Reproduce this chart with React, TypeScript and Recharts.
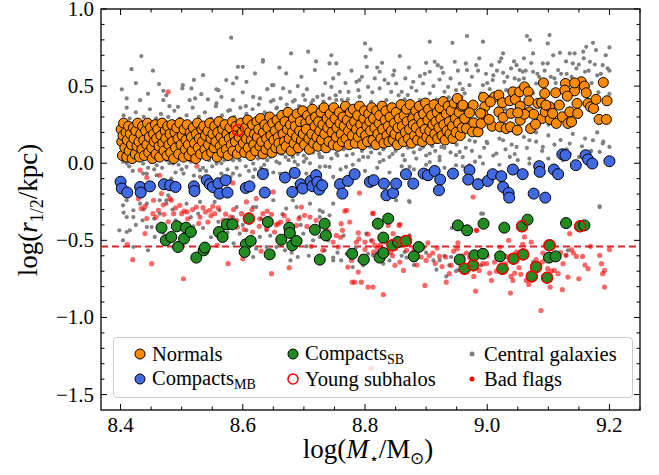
import React from 'react';
import {
  ScatterChart,
  Scatter,
  XAxis,
  YAxis,
  ReferenceLine,
  Customized,
} from 'recharts';

type P = [number, number];

const xTicks = [8.4, 8.45, 8.5, 8.55, 8.6, 8.65, 8.7, 8.75, 8.8, 8.85, 8.9, 8.95, 9.0, 9.05, 9.1, 9.15, 9.2, 9.25];
const yTicks = [-1.5, -1.4, -1.3, -1.2, -1.1, -1.0, -0.9, -0.8, -0.7, -0.6, -0.5, -0.4, -0.3, -0.2, -0.1, 0.0, 0.1, 0.2, 0.3, 0.4, 0.5, 0.6, 0.7, 0.8, 0.9, 1.0];
const cutLine = -0.54;

const centralGalaxies: P[] = [
  [8.581,0.814],[8.434,0.695],[8.418,0.61],[8.453,0.6],[8.402,0.479],[8.501,0.485],[8.516,0.485],[8.532,0.448],[8.56,0.474],[8.573,0.539],
  [8.59,0.554],[8.606,0.528],[8.62,0.582],[8.633,0.658],[8.592,0.625],[8.679,0.712],[8.707,0.723],[8.671,0.582],[8.696,0.56],[8.718,0.604],
  [8.648,0.506],[8.666,0.485],[8.41,0.42],[8.432,0.409],[8.47,0.409],[8.48,0.37],[8.494,0.366],[8.513,0.409],[8.543,0.414],[8.557,0.388],
  [8.579,0.344],[8.584,0.409],[8.605,0.37],[8.628,0.42],[8.617,0.43],[8.65,0.409],[8.655,0.355],[8.677,0.463],[8.685,0.409],[8.699,0.442],
  [8.715,0.409],[8.731,0.442],[8.726,0.366],[8.535,0.571],[8.6,0.625],[8.633,0.669],[8.463,0.513],[8.502,0.506],[8.557,0.479],[8.584,0.517],[8.65,0.506],
  [8.405,0.31],[8.415,0.29],[8.425,0.33],[8.438,0.30],[8.448,0.35],[8.458,0.29],[8.466,0.32],[8.478,0.30],[8.488,0.34],[8.497,0.29],
  [8.508,0.31],[8.518,0.36],[8.528,0.30],[8.538,0.33],[8.548,0.29],[8.556,0.37],[8.566,0.31],[8.576,0.34],[8.586,0.30],[8.596,0.36],
  [8.606,0.32],[8.616,0.35],[8.626,0.38],[8.636,0.33],[8.646,0.40],[8.656,0.36],[8.662,0.42],[8.672,0.38],[8.682,0.40],[8.692,0.37],
  [8.702,0.41],[8.712,0.39],[8.722,0.43],[8.732,0.40],[8.742,0.42],[8.752,0.44],[8.762,0.41],
  [8.41,0.36],[8.445,0.45],[8.475,0.44],[8.522,0.42],[8.565,0.43],[8.6,0.46],[8.64,0.48],[8.69,0.5],[8.705,0.48],[8.735,0.52],
  [8.72,0.66],[8.745,0.7],[8.66,0.62],[8.52,0.54],[8.47,0.47],[8.425,0.52],
  [8.8,0.777],[8.809,0.738],[8.906,0.788],[8.943,0.781],[8.967,0.825],[8.993,0.788],[9.065,0.825],[9.102,0.831],[9.099,0.777],[9.07,0.799],
  [9.173,0.781],[9.2,0.751],[9.162,0.755],[9.178,0.734],[9.075,0.712],[9.026,0.712],[9.119,0.716],[9.135,0.712],[9.143,0.712],[9.157,0.723],
  [8.801,0.69],[8.857,0.695],[8.742,0.647],[8.753,0.647],[8.803,0.625],[8.828,0.651],[8.9,0.651],[8.914,0.658],[8.919,0.636],[8.947,0.658],
  [8.965,0.647],[8.982,0.636],[9.007,0.636],[9.02,0.658],[9.048,0.636],[9.091,0.647],[9.099,0.647],[9.14,0.647],[9.168,0.658],[9.189,0.636],
  [9.197,0.615],[8.824,0.593],[8.846,0.571],[8.89,0.565],[8.906,0.593],[8.928,0.586],[8.967,0.604],[8.985,0.6],[9.026,0.586],[9.039,0.615],
  [9.053,0.604],[9.058,0.593],[9.075,0.593],[9.116,0.604],[9.146,0.615],[9.16,0.593],[8.748,0.55],[8.786,0.528],[8.791,0.539],[8.816,0.55],
  [8.805,0.495],[8.838,0.517],[8.851,0.517],[8.879,0.528],[8.895,0.517],[8.922,0.543],[8.936,0.495],[8.955,0.517],[8.971,0.506],[8.993,0.506],
  [9.009,0.539],[9.028,0.528],[9.08,0.517],[9.124,0.5],[8.745,0.495],[8.759,0.463],[8.773,0.463],[8.789,0.474],[8.824,0.485],[8.843,0.463],
  [8.86,0.463],[8.876,0.491],[8.87,0.442],[8.906,0.453],[8.93,0.463],[8.949,0.474],[8.963,0.453],[8.99,0.453],[9.031,0.474],[9.075,0.453],
  [8.753,0.409],[8.772,0.414],[8.791,0.43],[8.81,0.398],[8.835,0.409],[8.865,0.414],[8.89,0.409],[8.917,0.414],[8.937,0.427],[8.958,0.43],
  [9.003,0.43],[9.05,0.42],[9.01,0.57],[9.045,0.55],[9.085,0.56],[9.11,0.55],[9.13,0.58],[9.18,0.57],[9.19,0.52],[9.06,0.68],
  [8.757,0.58],[8.768,0.52],[8.778,0.6],[8.795,0.56],[8.812,0.46],[8.82,0.62],[8.832,0.54],[8.848,0.6],[8.855,0.44],[8.866,0.55],
  [8.872,0.62],[8.884,0.47],[8.898,0.58],[8.912,0.5],[8.925,0.62],[8.94,0.55],[8.952,0.6],[8.96,0.48],[8.975,0.56],[8.987,0.68],
  [8.998,0.58],[9.004,0.48],[9.016,0.6],[9.023,0.68],[9.033,0.56],[9.044,0.66],[9.052,0.54],[9.063,0.6],[9.072,0.65],[9.082,0.58],
  [9.094,0.6],[9.104,0.56],[9.108,0.7],[9.121,0.58],[9.129,0.66],[9.138,0.56],[9.15,0.64],[9.158,0.68],[9.166,0.6],[9.176,0.64],
  [9.186,0.58],[9.194,0.7],[9.2,0.6],[9.182,0.46],[9.171,0.52],[9.112,0.52],[9.06,0.55],[9.0,0.52],
  [8.75,0.138],[8.769,0.149],[8.789,0.106],[8.808,0.106],[8.813,0.128],[8.835,0.128],[8.851,0.117],[8.878,0.128],[8.895,0.106],[8.917,0.138],
  [8.925,0.106],[8.944,0.138],[8.971,0.149],[8.999,0.138],[9.026,0.149],[9.048,0.106],[9.069,0.149],[9.091,0.106],[9.135,0.128],[9.173,0.149],
  [9.189,0.128],[9.2,0.106],[8.753,0.063],[8.797,0.041],[8.824,0.063],[8.84,0.041],[8.862,0.052],[8.884,0.03],[8.906,0.063],[8.922,0.041],
  [8.949,0.052],[8.988,0.041],[9.015,0.063],[9.037,0.041],[9.069,0.03],[9.135,0.063],[9.184,0.073],[8.742,-0.024],[8.769,-0.024],[8.824,0.008],
  [8.873,-0.024],[8.906,0.008],[8.949,-0.013],[8.993,-0.002],[9.037,-0.024],[9.069,-0.002],[9.124,0.019],[8.759,-0.11],[8.851,-0.24],[8.873,-0.251],
  [8.922,0.019],[8.971,-0.013],[9.184,-0.279],[8.99,-0.327],[8.955,0.073],
  [8.437,-0.002],[8.459,-0.013],[8.486,-0.002],[8.508,-0.024],[8.53,-0.045],[8.557,-0.002],[8.584,0.019],[8.617,-0.002],[8.661,0.063],[8.682,0.041],
  [8.704,0.03],[8.726,0.041],[8.437,-0.067],[8.459,-0.078],[8.53,-0.089],[8.584,-0.067],[8.617,-0.089],[8.639,-0.045],[8.671,-0.067],[8.726,-0.024],
  [8.41,-0.24],[8.432,-0.262],[8.475,-0.24],[8.508,-0.262],[8.562,-0.219],[8.617,-0.284],[8.65,-0.24],[8.682,-0.24],[8.71,-0.262],[8.421,-0.349],
  [8.443,-0.414],[8.464,-0.327],[8.497,-0.392],[8.584,-0.349],[8.639,-0.435],[8.693,-0.349],[8.398,-0.435],[8.726,-0.349],
  [8.404,0.01],[8.414,-0.02],[8.422,0.02],[8.45,0.01],[8.468,-0.03],[8.475,0.02],[8.495,-0.01],[8.515,0.01],[8.535,-0.03],[8.545,0.02],
  [8.565,0.0],[8.575,-0.04],[8.595,0.02],[8.605,-0.02],[8.625,0.03],[8.635,-0.01],[8.645,0.04],[8.655,0.01],[8.665,0.06],[8.675,0.02],
  [8.69,0.06],[8.70,0.01],[8.715,0.07],[8.73,0.04],[8.74,0.08],[8.755,0.05],[8.765,0.09],[8.78,0.06],[8.795,0.08],[8.81,0.07],
  [8.83,0.09],[8.85,0.08],[8.87,0.10],[8.89,0.09],[8.91,0.11],[8.93,0.10],[8.95,0.12],[8.965,0.10],[8.98,0.14],[9.0,0.13],
  [9.02,0.16],[9.04,0.12],[9.06,0.17],[9.08,0.14],[9.1,0.18],[9.12,0.15],[9.14,0.19],[9.16,0.16],[9.18,0.2],
  [8.41,0.0],[8.43,0.03],[8.445,-0.03],[8.48,0.0],[8.5,-0.04],[8.525,0.02],[8.55,-0.02],[8.57,0.02],[8.59,-0.03],[8.62,-0.04],
  [8.64,0.02],[8.66,0.0],[8.67,0.04],[8.685,0.01],[8.7,0.05],[8.71,0.0],[8.725,0.06],[8.745,0.03],[8.77,0.05],[8.79,0.02],
  [8.805,0.04],[8.83,0.02],[8.845,0.06],[8.865,0.02],[8.88,0.07],[8.9,0.05],[8.915,0.08],[8.94,0.07],[8.96,0.04],[8.975,0.08],
  [8.995,0.1],[9.01,0.05],[9.03,0.09],[9.045,0.06],[9.065,0.1],[9.09,0.08],[9.11,0.12],[9.13,0.09],[9.155,0.11],[9.17,0.08],[9.19,0.14],
  [8.42,-0.05],[8.455,-0.04],[8.49,-0.06],[8.52,-0.08],[8.54,-0.05],[8.58,-0.09],[8.61,-0.05],[8.63,-0.03],[8.65,-0.06],[8.68,-0.04],
  [8.69,-0.01],[8.72,-0.05],[8.735,-0.02],[8.76,-0.04],[8.78,-0.01],[8.8,-0.05],[8.82,-0.03],[8.84,-0.06],[8.86,-0.02],[8.88,-0.04],
  [8.9,-0.01],[8.93,-0.03],[8.96,-0.02],[8.98,0.01],[9.02,-0.01],[9.05,0.02],[9.1,0.03],[9.15,0.04],
  [8.47,0.15],[8.6,0.09],[8.72,0.2],[8.85,0.25],[9.0,0.3],[9.1,0.25],[9.15,0.3],[9.18,0.35],[9.2,0.45],[9.08,0.2],[9.12,0.4],[9.03,0.35],
  [8.404,-0.273],[8.41,-0.349],[8.421,-0.305],[8.436,-0.37],[8.443,-0.262],[8.451,-0.414],[8.456,-0.478],[8.464,-0.24],[8.475,-0.262],[8.478,-0.208],
  [8.415,-0.435],[8.41,-0.446],[8.404,-0.5],[8.445,-0.565],[8.421,-0.543],[8.497,-0.424],[8.519,-0.409],[8.527,-0.327],[8.53,-0.251],[8.554,-0.251],
  [8.562,-0.305],[8.59,-0.284],[8.595,-0.457],[8.606,-0.435],[8.617,-0.608],[8.622,-0.554],[8.628,-0.478],[8.639,-0.543],[8.655,-0.543],[8.669,-0.565],
  [8.671,-0.294],[8.678,-0.63],[8.688,-0.284],[8.69,-0.608],[8.699,-0.457],[8.704,-0.539],[8.715,-0.5],[8.726,-0.305],[8.734,-0.565],[8.748,-0.63],
  [8.761,-0.63],[8.77,-0.587],[8.78,-0.608],[8.791,-0.63],[8.802,-0.457],[8.805,-0.587],[8.731,-0.316],[8.748,-0.089],[8.715,-0.089],[8.704,-0.067],
  [8.661,-0.067],[8.595,-0.078],[8.565,-0.067],[8.503,-0.067],[8.483,-0.099],[8.443,-0.067],[8.742,-0.338],[8.726,-0.478],[8.775,-0.565],[8.688,-0.132],
  [8.748,-0.262],[8.622,-0.284],[8.748,-0.612],[8.78,-0.673],[8.797,-0.662],[8.922,-0.63],[8.938,-0.662],[8.949,-0.699],[8.99,-0.662],[9.129,-0.597],
  [8.872,-0.245],[9.184,-0.284],[8.993,-0.327],[8.873,-0.468],[8.912,-0.63],[8.917,-0.69],[8.941,-0.608],[8.933,-0.734],[8.951,-0.695],[8.868,-0.612],
  [8.865,-0.576],[8.83,-0.651],[8.813,-0.597],[9.075,-0.641],[9.132,-0.565],[8.942,-0.42],
  [8.405,-0.32],[8.425,-0.4],[8.438,-0.3],[8.455,-0.36],[8.47,-0.45],[8.485,-0.3],[8.49,-0.37],[8.51,-0.45],[8.515,-0.35],[8.535,-0.42],
  [8.548,-0.48],[8.56,-0.38],[8.575,-0.45],[8.585,-0.52],[8.6,-0.4],[8.615,-0.5],[8.63,-0.36],[8.645,-0.47],[8.66,-0.52],[8.665,-0.33],
  [8.68,-0.58],[8.695,-0.4],[8.708,-0.6],[8.72,-0.45],[8.74,-0.5],[8.755,-0.58],[8.765,-0.47],[8.785,-0.55],[8.795,-0.6],[8.81,-0.5],
  [8.82,-0.58],[8.84,-0.63],[8.86,-0.6],[8.88,-0.66],[8.9,-0.58],[8.93,-0.6],
];

const badFlags: P[] = [
  [8.478,0.463],[8.513,0.024],[8.525,-0.019],[8.432,-0.045],[8.464,-0.078],[8.443,-0.093],[8.584,-0.128],[8.481,-0.229],[8.977,-0.219],[8.813,-0.327],
  [8.767,-0.31],[8.857,-0.396],[8.838,-0.403],[8.763,-0.435],[8.846,-0.457],[8.982,-0.435],
  [8.429,-0.229],[8.434,-0.294],[8.44,-0.456],[8.443,-0.359],[8.454,-0.24],[8.453,-0.327],[8.462,-0.305],[8.467,-0.197],[8.471,-0.331],[8.483,-0.24],
  [8.487,-0.327],[8.497,-0.273],[8.5,-0.327],[8.504,-0.31],[8.509,-0.316],[8.524,-0.284],[8.53,-0.349],[8.535,-0.288],[8.539,-0.316],[8.543,-0.381],
  [8.546,-0.305],[8.551,-0.279],[8.554,-0.327],[8.558,-0.532],[8.568,-0.37],[8.58,-0.349],[8.591,-0.414],[8.598,-0.327],[8.606,-0.251],[8.609,-0.375],
  [8.616,-0.446],[8.622,-0.229],[8.627,-0.409],[8.633,-0.327],[8.639,-0.424],[8.647,-0.331],[8.65,-0.186],[8.652,-0.446],[8.658,-0.392],[8.662,-0.381],
  [8.674,-0.37],[8.688,-0.403],[8.696,-0.284],[8.701,-0.338],[8.71,-0.349],[8.72,-0.37],[8.748,-0.511],[8.753,-0.468],[8.756,-0.543],[8.761,-0.392],
  [8.77,-0.305],[8.775,-0.381],[8.786,-0.511],[8.789,-0.452],[8.791,-0.193],[8.8,-0.511],[8.42,-0.625],[8.451,-0.651],[8.411,-0.526],[8.503,-0.749],
  [8.576,-0.651],[8.647,-0.716],[8.676,-0.677],[8.772,-0.673],[8.783,-0.771],[8.789,-0.706],[8.805,-0.803],[8.778,-0.63],[8.712,-0.539],[8.731,-0.565],
  [8.779,-0.771],[8.794,-0.771],[9.038,-0.842],
  [8.813,-0.323],[8.812,-0.504],[8.816,-0.532],[8.814,-0.576],[8.834,-0.511],[8.85,-0.554],[8.856,-0.403],[8.857,-0.641],[8.863,-0.695],[8.868,-0.565],
  [8.872,-0.478],[8.876,-0.604],[8.892,-0.608],[8.9,-0.63],[8.898,-0.792],[8.903,-0.517],[8.911,-0.582],[8.922,-0.604],[8.932,-0.608],[8.938,-0.716],
  [8.933,-0.771],[8.951,-0.554],[8.952,-0.517],[8.941,-0.662],[8.966,-0.582],[8.971,-0.612],[8.978,-0.734],[8.981,-0.829],[8.983,-0.435],[8.987,-0.695],
  [8.999,-0.651],[9.004,-0.712],[9.007,-0.76],[9.012,-0.641],[9.021,-0.543],[9.031,-0.604],[9.035,-0.5],[9.039,-0.734],[9.042,-0.76],[9.045,-0.712],
  [9.048,-0.576],[9.052,-0.677],[9.058,-0.526],[9.061,-0.478],[9.064,-0.76],[9.072,-0.511],[9.068,-0.786],[9.078,-0.69],[9.088,-0.955],[9.091,-0.582],
  [9.099,-0.684],[9.103,-0.803],[9.105,-0.699],[9.116,-0.716],[9.123,-0.82],[9.124,-0.651],[9.132,-0.738],[9.135,-0.457],[9.138,-0.561],[9.141,-0.582],
  [9.146,-0.604],[9.15,-0.749],[9.156,-0.604],[9.165,-0.684],[9.169,-0.539],[9.184,-0.597],[9.187,-0.651],[9.192,-0.695],[9.189,-0.716],[9.192,-0.803],
  [9.129,-0.597],[9.11,-0.695],[9.08,-0.625],[8.974,-0.641],[8.993,-0.651],[8.83,-0.851],[8.813,-0.803],[8.849,-0.662],
  [8.82,-0.55],[8.826,-0.6],[8.842,-0.58],[8.862,-0.53],[8.88,-0.56],[8.885,-0.66],[8.905,-0.6],[8.918,-0.55],[8.926,-0.67],[8.96,-0.6],
  [8.44,-0.28],[8.458,-0.35],[8.47,-0.27],[8.478,-0.38],[8.49,-0.29],[8.51,-0.36],[8.518,-0.3],[8.528,-0.39],[8.548,-0.34],[8.56,-0.29],
  [8.572,-0.33],[8.585,-0.3],[8.59,-0.37],[8.602,-0.43],[8.615,-0.3],[8.628,-0.36],[8.64,-0.31],[8.655,-0.4],[8.668,-0.34],[8.68,-0.44],
  [8.692,-0.36],[8.705,-0.41],[8.74,-0.44],[8.76,-0.48],[8.79,-0.49],[8.805,-0.46],[8.8,-0.56],[8.825,-0.53],[8.845,-0.6],[8.87,-0.52],
  [8.895,-0.55],[8.915,-0.65],[8.945,-0.57],[8.965,-0.7],[9.0,-0.6],[9.015,-0.7],[9.03,-0.65],[9.055,-0.72],[9.09,-0.64],[9.12,-0.58],
  [9.16,-0.66],[9.2,-0.56],[8.5,-0.52],[8.53,-0.58],[8.6,-0.62],[8.63,-0.57],
  [8.81,-1.33],
];

const normals: P[] = [
  [8.401,0.22],[8.402,0.14],[8.403,0.05],[8.404,0.18],[8.405,0.26],[8.407,0.10],[8.409,0.20],[8.41,0.04],[8.411,0.15],[8.413,0.24],[8.414,0.08],[8.416,0.19],[8.418,0.12],[8.419,0.03],
  [8.421,0.23],[8.422,0.16],[8.424,0.06],[8.425,0.21],[8.427,0.11],[8.428,0.26],[8.43,0.14],[8.431,0.04],[8.433,0.19],[8.435,0.09],[8.436,0.24],[8.438,0.15],[8.439,0.05],
  [8.441,0.21],[8.443,0.12],[8.444,0.26],[8.446,0.07],[8.447,0.17],[8.449,0.23],[8.451,0.10],[8.452,0.03],[8.454,0.19],[8.455,0.14],[8.457,0.25],[8.458,0.06],[8.459,0.16],
  [8.461,0.22],[8.463,0.11],[8.464,0.04],[8.466,0.18],[8.468,0.26],[8.469,0.13],[8.471,0.08],[8.473,0.21],[8.474,0.16],[8.476,0.05],[8.477,0.24],[8.479,0.12],
  [8.481,0.19],[8.482,0.07],[8.484,0.25],[8.485,0.14],[8.487,0.03],[8.489,0.20],[8.49,0.10],[8.492,0.23],[8.494,0.16],[8.495,0.06],[8.497,0.26],[8.499,0.12],
  [8.501,0.18],[8.503,0.04],[8.504,0.22],[8.506,0.09],[8.507,0.15],[8.509,0.25],[8.511,0.12],[8.512,0.05],[8.514,0.20],[8.516,0.17],[8.517,0.08],[8.519,0.23],
  [8.521,0.13],[8.523,0.03],[8.524,0.19],[8.526,0.26],[8.527,0.10],[8.529,0.16],[8.531,0.06],[8.533,0.22],[8.534,0.14],[8.536,0.24],[8.538,0.09],[8.539,0.18],
  [8.541,0.05],[8.543,0.21],[8.544,0.12],[8.546,0.26],[8.548,0.16],[8.549,0.07],[8.551,0.19],[8.553,0.10],[8.554,0.24],[8.556,0.14],[8.558,0.04],[8.559,0.20],
  [8.561,0.27],[8.563,0.11],[8.564,0.17],[8.566,0.07],[8.567,0.22],[8.569,0.14],[8.571,0.25],[8.573,0.09],[8.574,0.19],[8.576,0.05],[8.578,0.16],[8.579,0.23],
  [8.581,0.12],[8.583,0.27],[8.584,0.08],[8.586,0.18],[8.588,0.14],[8.589,0.24],[8.591,0.06],[8.594,0.17],[8.596,0.10],[8.597,0.26],[8.599,0.20],
  [8.601,0.13],[8.603,0.07],[8.604,0.23],[8.606,0.16],[8.608,0.28],[8.609,0.10],[8.611,0.20],[8.613,0.05],[8.614,0.15],[8.616,0.25],[8.618,0.12],[8.619,0.19],
  [8.621,0.08],[8.623,0.27],[8.624,0.17],[8.626,0.22],[8.628,0.11],[8.629,0.29],[8.631,0.14],[8.633,0.06],[8.634,0.20],[8.636,0.25],[8.638,0.09],[8.639,0.16],
  [8.641,0.23],[8.643,0.12],[8.644,0.30],[8.646,0.18],[8.648,0.07],[8.649,0.26],[8.651,0.15],[8.653,0.21],[8.654,0.10],[8.656,0.28],[8.658,0.17],[8.659,0.13],
  [8.661,0.24],[8.663,0.09],[8.664,0.31],[8.666,0.19],[8.668,0.14],[8.669,0.27],[8.671,0.11],[8.673,0.22],[8.674,0.33],[8.676,0.16],[8.678,0.25],[8.679,0.08],
  [8.681,0.20],[8.683,0.29],[8.684,0.13],[8.686,0.24],[8.688,0.17],[8.689,0.32],[8.691,0.10],[8.693,0.21],[8.694,0.27],[8.696,0.15],[8.698,0.34],[8.699,0.19],
  [8.701,0.12],[8.703,0.26],[8.704,0.22],[8.706,0.31],[8.708,0.16],[8.709,0.09],[8.711,0.28],[8.713,0.19],[8.714,0.35],[8.716,0.13],[8.718,0.24],[8.719,0.30],
  [8.721,0.17],[8.723,0.11],[8.724,0.27],[8.726,0.21],[8.728,0.33],[8.729,0.15],[8.731,0.25],[8.733,0.36],[8.734,0.19],[8.736,0.10],[8.738,0.29],[8.739,0.23],
  [8.741,0.14],[8.743,0.32],[8.744,0.26],[8.746,0.20],[8.748,0.12],[8.749,0.36],[8.751,0.29],[8.753,0.17],[8.754,0.23],[8.756,0.11],[8.758,0.33],[8.759,0.26],
  [8.761,0.19],[8.763,0.14],[8.764,0.30],[8.766,0.24],[8.768,0.37],[8.769,0.16],[8.771,0.28],[8.773,0.21],[8.774,0.12],[8.776,0.33],[8.778,0.25],[8.779,0.18],
  [8.781,0.35],[8.783,0.27],[8.784,0.13],[8.786,0.22],[8.788,0.31],[8.789,0.17],[8.791,0.37],[8.793,0.25],[8.794,0.20],[8.796,0.12],[8.798,0.29],[8.799,0.34],
  [8.801,0.18],[8.803,0.24],[8.804,0.14],[8.806,0.32],[8.808,0.27],[8.809,0.21],[8.811,0.36],[8.813,0.15],[8.814,0.29],[8.816,0.23],[8.818,0.12],[8.819,0.34],
  [8.821,0.19],[8.823,0.26],[8.824,0.31],[8.826,0.16],[8.828,0.37],[8.829,0.22],[8.831,0.13],[8.833,0.28],[8.834,0.34],[8.836,0.18],[8.838,0.24],[8.839,0.14],
  [8.841,0.30],[8.843,0.21],[8.844,0.36],[8.846,0.15],[8.848,0.26],[8.849,0.19],[8.851,0.33],[8.853,0.12],[8.854,0.23],[8.856,0.29],[8.858,0.17],[8.859,0.38],
  [8.861,0.24],[8.863,0.14],[8.864,0.31],[8.866,0.20],[8.868,0.35],[8.869,0.27],[8.871,0.16],[8.873,0.22],[8.874,0.38],[8.876,0.13],[8.878,0.29],[8.879,0.25],
  [8.881,0.18],[8.883,0.34],[8.884,0.23],[8.886,0.15],[8.888,0.30],[8.889,0.37],[8.891,0.20],[8.893,0.26],[8.894,0.14],[8.896,0.32],[8.898,0.22],[8.899,0.39],
  [8.901,0.17],[8.903,0.28],[8.904,0.35],[8.906,0.21],[8.908,0.15],[8.909,0.31],[8.911,0.25],[8.913,0.38],[8.914,0.19],[8.916,0.27],[8.918,0.33],[8.919,0.16],
  [8.921,0.23],[8.923,0.36],[8.924,0.29],[8.926,0.18],[8.928,0.40],[8.929,0.25],[8.931,0.15],[8.933,0.32],[8.934,0.21],[8.936,0.37],[8.938,0.27],[8.939,0.19],
  [8.941,0.34],[8.943,0.24],[8.944,0.16],[8.946,0.39],[8.948,0.29],[8.949,0.20],[8.951,0.42],[8.953,0.26],[8.954,0.33],[8.956,0.18],[8.958,0.37],[8.959,0.23],
  [8.96,0.377],[8.963,0.29],[8.966,0.225],[8.977,0.377],[8.978,0.262],[8.976,0.203],[8.985,0.203],[8.99,0.258],[8.994,0.427],[8.996,0.366],
  [8.993,0.318],[9.008,0.24],[9.012,0.43],[9.019,0.442],[9.019,0.333],[9.021,0.236],[9.025,0.392],[9.026,0.297],[9.031,0.225],[9.037,0.405],
  [9.039,0.323],[9.038,0.236],[9.042,0.463],[9.046,0.414],[9.049,0.214],[9.053,0.463],[9.054,0.37],[9.054,0.279],[9.061,0.495],[9.067,0.463],
  [9.068,0.405],[9.069,0.333],[9.071,0.225],[9.076,0.318],[9.083,0.388],[9.089,0.392],[9.09,0.29],[9.092,0.521],[9.094,0.453],[9.095,0.333],
  [9.102,0.366],[9.103,0.284],[9.107,0.323],[9.112,0.457],[9.113,0.258],[9.118,0.377],[9.123,0.301],[9.128,0.517],[9.127,0.474],[9.132,0.258],
  [9.135,0.333],[9.138,0.268],[9.143,0.469],[9.147,0.388],[9.148,0.323],[9.154,0.528],[9.159,0.5],[9.162,0.457],[9.165,0.388],[9.169,0.366],
  [9.174,0.355],[9.178,0.414],[9.183,0.284],[9.19,0.524],[9.195,0.284],[9.196,0.405],[9.143,0.521],[9.131,0.435],[9.096,0.377],[9.079,0.253],
  [9.061,0.318],[9.05,0.327],[9.003,0.284],[9.005,0.398],[8.989,0.323],[8.971,0.327],
];

const compactsMB: P[] = [
  [8.40,-0.12],[8.402,-0.164],[8.411,-0.19],[8.432,-0.154],[8.433,-0.19],[8.448,-0.15],[8.471,-0.136],[8.481,-0.143],[8.49,-0.154],[8.52,-0.15],
  [8.521,-0.18],[8.541,-0.11],[8.546,-0.136],[8.551,-0.154],[8.56,-0.13],[8.562,-0.197],[8.572,-0.11],[8.575,-0.19],[8.605,-0.16],[8.611,-0.15],
  [8.633,-0.07],[8.636,-0.19],[8.669,-0.093],[8.685,-0.063],[8.681,-0.186],[8.695,-0.136],[8.698,-0.164],[8.711,-0.115],[8.714,-0.149],[8.72,-0.078],
  [8.722,-0.121],[8.725,-0.171],[8.73,-0.143],[8.759,-0.136],[8.763,-0.197],[8.772,-0.115],[8.783,-0.071],[8.808,-0.121],[8.814,-0.11],[8.831,-0.132],
  [8.835,-0.208],[8.846,-0.193],[8.851,-0.132],[8.867,-0.071],[8.879,-0.132],[8.896,-0.067],[8.903,-0.078],[8.914,-0.05],[8.923,-0.106],[8.921,-0.175],
  [8.944,-0.067],[8.971,-0.045],[8.969,-0.106],[8.985,-0.136],[9.001,-0.115],[9.009,-0.071],[9.023,-0.084],[9.026,-0.154],[9.035,-0.193],[9.036,-0.223],
  [9.042,-0.041],[9.058,-0.071],[9.076,-0.197],[9.085,-0.019],[9.086,-0.056],[9.095,-0.223],[9.109,-0.041],[9.116,-0.071],[9.123,0.058],[9.128,0.052],
  [9.145,-0.013],[9.161,0.052],[9.165,0.024],[9.172,-0.002],[9.20,0.013],
];

const compactsSB: P[] = [
  [8.467,-0.418],[8.474,-0.5],[8.483,-0.478],[8.492,-0.409],[8.494,-0.543],[8.507,-0.418],[8.504,-0.489],[8.515,-0.446],[8.524,-0.612],[8.536,-0.565],
  [8.538,-0.547],[8.561,-0.446],[8.567,-0.478],[8.574,-0.396],[8.583,-0.396],[8.605,-0.526],[8.603,-0.576],[8.613,-0.504],[8.61,-0.359],[8.641,-0.381],
  [8.644,-0.591],[8.663,-0.496],[8.676,-0.418],[8.677,-0.452],[8.681,-0.532],[8.688,-0.504],[8.718,-0.431],[8.734,-0.392],[8.736,-0.468],[8.726,-0.625],
  [8.779,-0.587],[8.798,-0.625],[8.821,-0.392],[8.838,-0.359],[8.83,-0.482],[8.824,-0.612],[8.83,-0.582],[8.845,-0.532],[8.854,-0.511],[8.867,-0.504],
  [8.888,-0.543],[8.88,-0.604],[8.952,-0.403],[8.967,-0.435],[8.994,-0.392],[8.955,-0.625],[8.963,-0.684],[8.977,-0.662],[8.979,-0.597],[8.993,-0.587],
  [9.021,-0.604],[9.025,-0.684],[9.028,-0.418],[9.043,-0.619],[9.057,-0.409],[9.066,-0.366],[9.059,-0.591],[9.073,-0.734],[9.08,-0.673],[9.098,-0.742],
  [9.101,-0.612],[9.102,-0.532],[9.112,-0.604],[9.129,-0.388],[9.152,-0.409],[9.159,-0.403],
];

const youngSubhalos: P[] = [
  [8.592,0.214],[8.61,-0.359],[8.845,-0.532],[8.867,-0.504],[8.963,-0.684],[8.977,-0.662],[9.025,-0.684],[9.043,-0.619],[9.057,-0.409],[9.059,-0.591],
  [9.073,-0.734],[9.08,-0.673],[9.098,-0.742],[9.102,-0.532],[9.152,-0.409],
];

const toPts = (a: P[]) => a.map(([x, y]) => ({ x, y }));

const FONT = "'Liberation Serif', 'Times New Roman', Times, serif";
const PL = 101, PR = 640, PT = 9, PB = 410;

const dot = (fill: string, r: number, stroke = 'none', sw = 0, op = 1) => (p: any) => (
  <circle cx={p.cx} cy={p.cy} r={r} fill={fill} fillOpacity={op} stroke={stroke} strokeWidth={sw} />
);

const isMajor = (v: number, step: number) => Math.abs(v / step - Math.round(v / step)) < 1e-6;
const fmt = (v: number) => v.toFixed(1).replace('-', '\u2212');

const XTick = (props: any) => {
  const { x, payload } = props;
  const v = payload.value;
  const major = isMajor(v, 0.2);
  const L = major ? 6 : 3.5;
  return (
    <g>
      <line x1={x} x2={x} y1={PB} y2={PB - L} stroke="#000" strokeWidth={1} />
      <line x1={x} x2={x} y1={PT} y2={PT + L} stroke="#000" strokeWidth={1} />
      {major && (
        <text x={x} y={432} textAnchor="middle" fontSize={21} fontFamily={FONT} fill="#000">
          {v.toFixed(1)}
        </text>
      )}
    </g>
  );
};

const YTick = (props: any) => {
  const { y, payload } = props;
  const v = payload.value;
  const major = isMajor(v, 0.5);
  const L = major ? 6 : 3.5;
  return (
    <g>
      <line x1={PL} x2={PL + L} y1={y} y2={y} stroke="#000" strokeWidth={1} />
      <line x1={PR} x2={PR - L} y1={y} y2={y} stroke="#000" strokeWidth={1} />
      {major && (
        <text x={94} y={y + 7} textAnchor="end" fontSize={21} fontFamily={FONT} fill="#000">
          {fmt(v)}
        </text>
      )}
    </g>
  );
};

const Frame = () => (
  <g>
    <rect x={PL} y={PT} width={PR - PL} height={PB - PT} fill="none" stroke="#000" strokeWidth={1.3} />
    <text x={368} y={458} textAnchor="middle" fontSize={27} fontFamily={FONT} fill="#000">
      log(<tspan fontStyle="italic">M</tspan>
      <tspan dy={6} fontSize={16}>{'\u22C6'}</tspan>
      <tspan dy={-6}>/M</tspan>
      <tspan dy={6} fontSize={17}>{'\u2299'}</tspan>
      <tspan dy={-6}>)</tspan>
    </text>
    <text transform="translate(37,210) rotate(-90)" textAnchor="middle" fontSize={27} fontFamily={FONT} fill="#000">
      log(<tspan fontStyle="italic">r</tspan>
      <tspan dy={6} fontSize={18}>1/2</tspan>
      <tspan dy={-6}>/kpc)</tspan>
    </text>
  </g>
);

const Mark = ({ fill, r, stroke, sw }: { fill: string; r: number; stroke: string; sw: number }) => (
  <svg width={14} height={14} style={{ display: 'block' }}>
    <circle cx={7} cy={7} r={r} fill={fill} stroke={stroke} strokeWidth={sw} />
  </svg>
);

const Item = ({ x, y, mark, children }: { x: number; y: number; mark: React.ReactNode; children: React.ReactNode }) => (
  <div style={{ position: 'absolute', left: x - 7, top: y - 12, height: 24, display: 'flex', alignItems: 'center', whiteSpace: 'nowrap' }}>
    {mark}
    <span style={{ marginLeft: 5, fontSize: 20.5, lineHeight: '24px' }}>{children}</span>
  </div>
);

const sub = (t: string) => <span style={{ fontSize: 14, position: 'relative', top: 4 }}>{t}</span>;

const LegendBox = () => (
  <div style={{ position: 'absolute', left: 0, top: 0, width: 659, height: 475, pointerEvents: 'none', fontFamily: FONT, color: '#000' }}>
    <div style={{ position: 'absolute', left: 113, top: 337, width: 520, height: 61, boxSizing: 'border-box', border: '1px solid #cccccc', borderRadius: 4, background: 'rgba(255,255,255,0.8)' }} />
    <Item x={140} y={354} mark={<Mark fill="#ff8c00" r={5} stroke="#000" sw={1} />}>Normals</Item>
    <Item x={140} y={379} mark={<Mark fill="#4169e1" r={5} stroke="#000" sw={1} />}>Compacts{sub('MB')}</Item>
    <Item x={293} y={354} mark={<Mark fill="#228b22" r={5} stroke="#000" sw={1} />}>Compacts{sub('SB')}</Item>
    <Item x={293} y={379} mark={<Mark fill="none" r={5} stroke="#ff0000" sw={1.5} />}>Young subhalos</Item>
    <Item x={472} y={354} mark={<Mark fill="#808080" r={2.5} stroke="none" sw={0} />}>Central galaxies</Item>
    <Item x={472} y={379} mark={<Mark fill="#ff0000" r={2.5} stroke="none" sw={0} />}>Bad flags</Item>
  </div>
);

export default function App() {
  return (
    <div style={{ position: 'absolute', left: 0, top: 0, width: 659, height: 475, background: '#fff', fontFamily: FONT }}>
      <ScatterChart width={659} height={475} margin={{ top: PT, right: 659 - PR, bottom: 0, left: 0 }}>
        <XAxis
          dataKey="x"
          type="number"
          domain={[8.368, 9.25]}
          allowDataOverflow
          ticks={xTicks}
          interval={0}
          tick={<XTick />}
          tickLine={false}
          axisLine={false}
          height={475 - PB}
        />
        <YAxis
          dataKey="y"
          type="number"
          domain={[-1.6, 1.0]}
          allowDataOverflow
          ticks={yTicks}
          interval={0}
          tick={<YTick />}
          tickLine={false}
          axisLine={false}
          width={PL}
        />
        <Scatter name="Central galaxies" data={toPts(centralGalaxies)} shape={dot('#808080', 2.1)} isAnimationActive={false} />
        <Scatter name="Bad flags" data={toPts(badFlags)} shape={dot('#ff0000', 2.6, 'none', 0, 0.6)} isAnimationActive={false} />
        <Scatter name="Normals" data={toPts(normals)} shape={dot('#ff8c00', 5, '#000', 1)} isAnimationActive={false} />
        <Scatter name="CompactsMB" data={toPts(compactsMB)} shape={dot('#4169e1', 5.5, '#000', 1)} isAnimationActive={false} />
        <Scatter name="CompactsSB" data={toPts(compactsSB)} shape={dot('#228b22', 5.5, '#000', 1)} isAnimationActive={false} />
        <Scatter name="Young subhalos" data={toPts(youngSubhalos)} shape={dot('none', 5.5, '#ff0000', 1.5)} isAnimationActive={false} />
        <ReferenceLine y={cutLine} stroke="#d62728" strokeWidth={2} strokeDasharray="7 4" />
        <Customized component={<Frame />} />
      </ScatterChart>
      <LegendBox />
    </div>
  );
}
